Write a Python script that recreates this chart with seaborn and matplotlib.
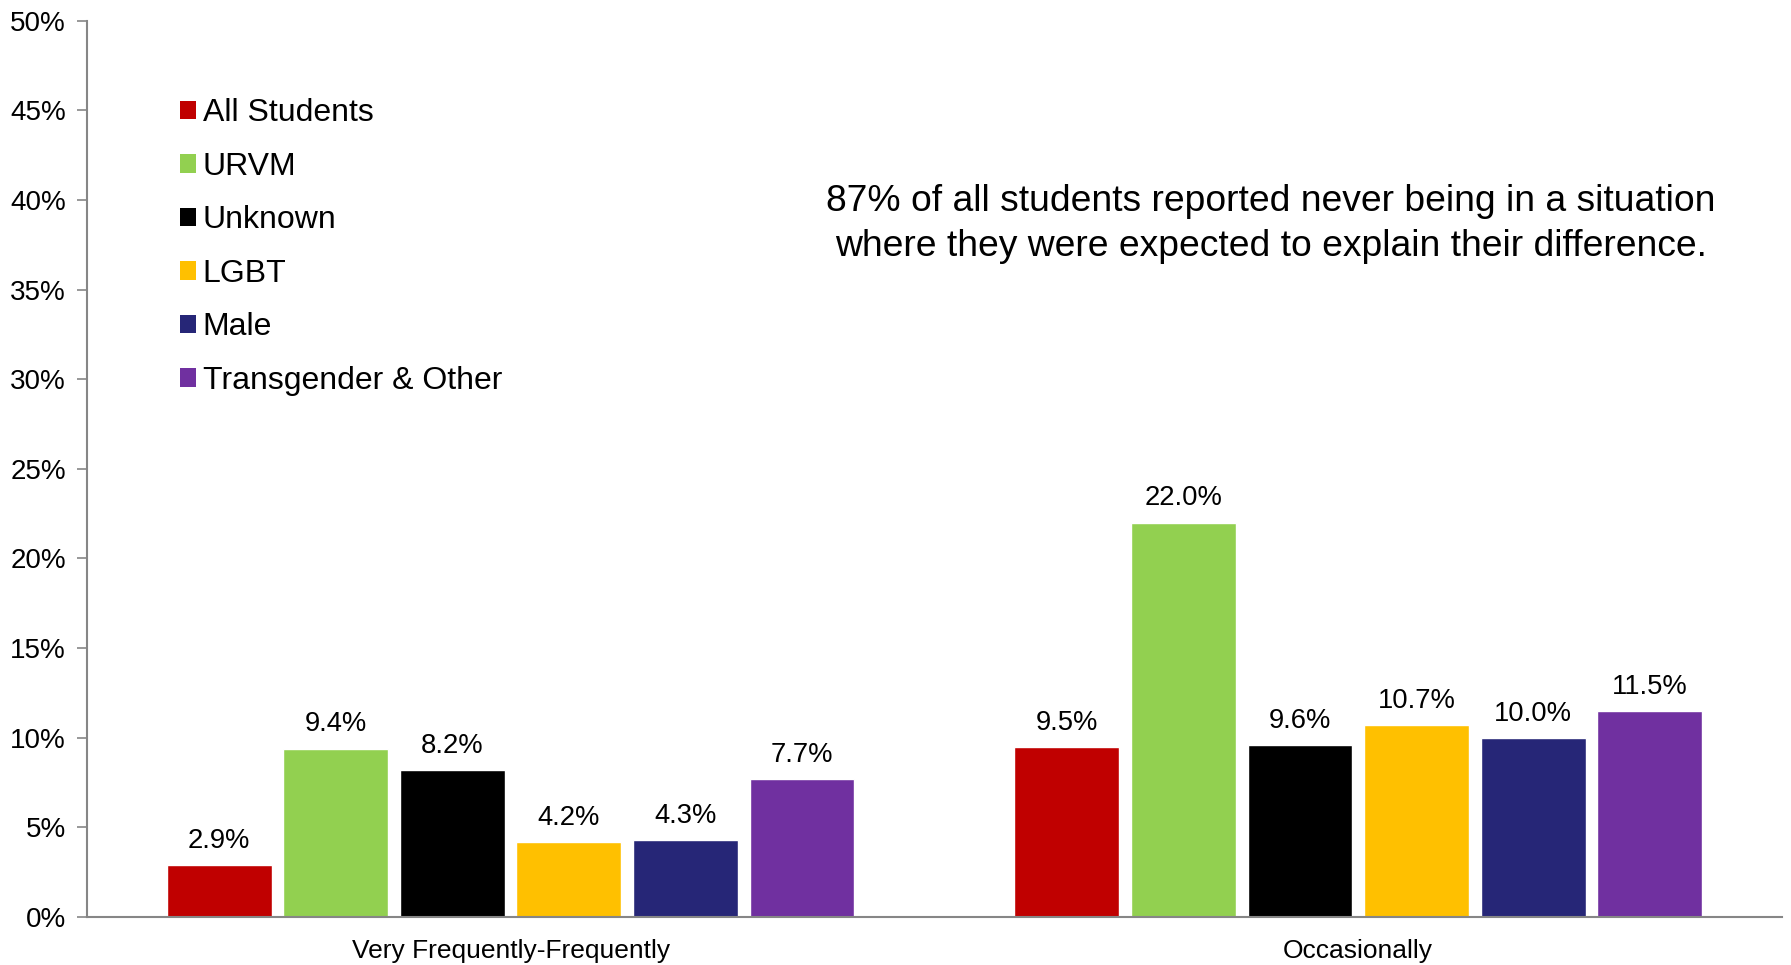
import matplotlib
matplotlib.use("Agg")
import matplotlib.pyplot as plt
import seaborn as sns
import pandas as pd
from matplotlib.patches import Patch

# Survey responses by frequency and student group (percent)
categories = ["Very Frequently-Frequently", "Occasionally"]
groups = ["All Students", "URVM", "Unknown", "LGBT", "Male", "Transgender & Other"]
very_frequently = [2.9, 9.4, 8.2, 4.2, 4.3, 7.7]
occasionally = [9.5, 22.0, 9.6, 10.7, 10.0, 11.5]
colors = ["#C00000", "#92D050", "#000000", "#FFC000", "#262677", "#7030A0"]
y_ticks = [0, 5, 10, 15, 20, 25, 30, 35, 40, 45, 50]
note = ("87% of all students reported never being in a situation\n"
        "where they were expected to explain their difference.")

rows = []
for cat, vals in zip(categories, [very_frequently, occasionally]):
    for g, v in zip(groups, vals):
        rows.append({"category": cat, "group": g, "value": v})
df = pd.DataFrame(rows)

sns.set_theme(style="white")
plt.rcParams["font.family"] = ["Liberation Sans", "DejaVu Sans"]

fig = plt.figure(figsize=(17.91, 9.65), dpi=100)
ax = fig.add_axes([0.0485, 0.0497, 0.9465, 0.929])

sns.barplot(data=df, x="category", y="value", hue="group", order=categories,
            hue_order=groups, palette=colors, width=0.825, gap=0.1,
            saturation=1, legend=False, ax=ax, errorbar=None)

# value labels above each bar
for container in ax.containers:
    ax.bar_label(container, labels=[f"{b.get_height():.1f}%" for b in container],
                 padding=8, fontsize=19.7, color="#000000")

ax.set_xlim(-0.5, 1.5)
ax.set_ylim(0, 50)
ax.set_yticks(y_ticks)
ax.set_yticklabels([f"{t}%" for t in y_ticks], fontsize=20, color="#000000")
ax.set_xlabel("")
ax.set_ylabel("")

ax.set_xticks([0, 1])
ax.set_xticklabels(categories, fontsize=19, color="#000000")
ax.set_xticks([-0.5, 0.5, 1.5], minor=True)
ax.tick_params(axis="x", which="major", length=0, pad=16)
ax.tick_params(axis="x", which="minor", length=7, width=1.2, color="#868686", direction="out")
ax.tick_params(axis="y", which="major", length=7, width=1.2, color="#868686", direction="out", pad=8, left=True)

for side in ["top", "right"]:
    ax.spines[side].set_visible(False)
for side in ["left", "bottom"]:
    ax.spines[side].set_color("#868686")
    ax.spines[side].set_linewidth(1.5)

handles = [Patch(facecolor=c, edgecolor="none", label=g) for c, g in zip(colors, groups)]
ax.legend(handles=handles, loc="upper left", bbox_to_anchor=(0.1007, 0.898),
          bbox_transform=fig.transFigure, frameon=False, fontsize=23,
          handlelength=0.5, handleheight=0.5, handletextpad=0.2,
          labelspacing=0.735, borderaxespad=0, borderpad=0, labelcolor="#000000")

fig.text(0.7097, 0.7675, note, ha="center", va="center", fontsize=26.8,
         color="#000000", linespacing=1.38)

fig.savefig("out.png", dpi=100)
